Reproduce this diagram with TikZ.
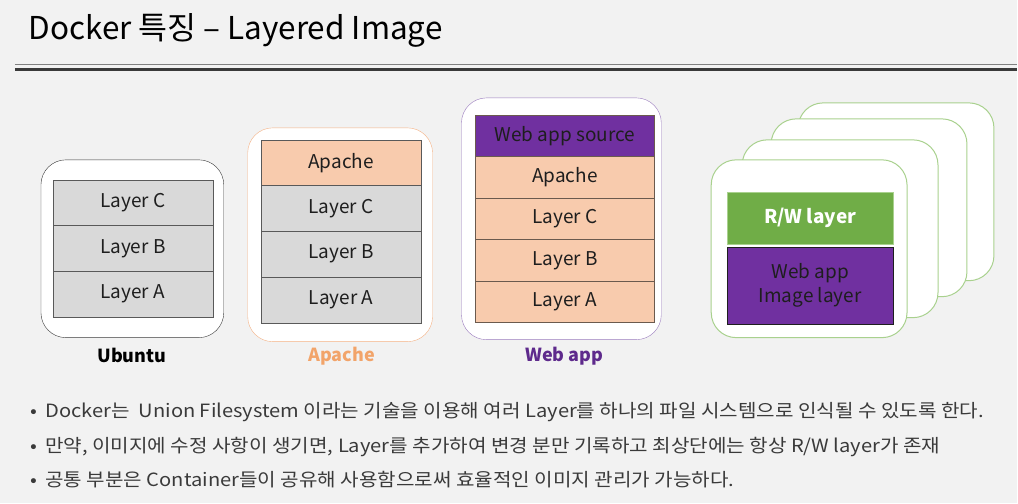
\documentclass[tikz,border=0pt]{standalone}
\usepackage{fontspec}
\setmainfont{Noto Sans CJK KR}
\newfontfamily\notefont{Noto Sans CJK KR}[FakeStretch=1.1]
\usetikzlibrary{positioning}

\definecolor{slidebg}{HTML}{F2F2F2}
\definecolor{inkdark}{HTML}{1E1E1E}
\definecolor{inkgray}{HTML}{3A3A3A}
\definecolor{layergray}{HTML}{D9D9D9}
\definecolor{layerline}{HTML}{595959}
\definecolor{peach}{HTML}{F8CBAD}
\definecolor{peachline}{HTML}{6B5A4E}
\definecolor{apacheline}{HTML}{F4B183}
\definecolor{apachetext}{HTML}{F2A46A}
\definecolor{webpurple}{HTML}{7030A0}
\definecolor{webline}{HTML}{9A7BBE}
\definecolor{webtext}{HTML}{5E2A8C}
\definecolor{rwgreen}{HTML}{70AD47}
\definecolor{rwline}{HTML}{A9D18E}
\definecolor{ruleline}{HTML}{3A3A3A}

\begin{document}
\begin{tikzpicture}[x=1pt,y=-1pt,
	shell/.style={rounded corners=25pt,fill=white,inner sep=0pt,outer sep=0pt,anchor=north west},
	layer/.style={draw=layerline,fill=layergray,inner sep=0pt,outer sep=0pt,text=inkdark,font=\fontsize{19}{22}\selectfont},
	caption/.style={font=\fontsize{18}{21}\selectfont\bfseries},
	note/.style={anchor=base west,text=inkgray,font=\notefont\fontsize{18.3}{21}\selectfont}
]
	\fill[slidebg] (0,0) rectangle (1018,504);
	%\draw[help lines] (0,0) grid[step=50] (1018,504);

	% title and rule
	\node[anchor=base west,font=\fontsize{31.5}{36}\selectfont,text=black] (title) at (25,40) {Docker 특징 – Layered Image};
	\draw[gray,line width=1pt] (15,65) -- (1018,65);
	\draw[ruleline,line width=2.2pt] (15,69.5) -- (1018,69.5);

	% ubuntu image
	\node[shell,draw=inkgray,minimum width=183pt,minimum height=178pt] (ubuntushell) at (41,160) {};
	\node[layer,anchor=north west,minimum width=160pt,minimum height=45.7pt] (ubC) at (53,180) {Layer C};
	\node[layer,below=0pt of ubC,minimum width=160pt,minimum height=45.7pt] (ubB) {Layer B};
	\node[layer,below=0pt of ubB,minimum width=160pt,minimum height=45.7pt] (ubA) {Layer A};
	\node[caption,text=black] (ubuntulabel) at (132,356) {Ubuntu};

	% apache image
	\node[shell,draw=apacheline,minimum width=185pt,minimum height=214pt] (apacheshell) at (248,128) {};
	\node[layer,fill=peach,anchor=north west,minimum width=161pt,minimum height=45.8pt] (apTop) at (261,140) {Apache};
	\node[layer,below=0pt of apTop,minimum width=161pt,minimum height=45.8pt] (apC) {Layer C};
	\node[layer,below=0pt of apC,minimum width=161pt,minimum height=45.8pt] (apB) {Layer B};
	\node[layer,below=0pt of apB,minimum width=161pt,minimum height=45.8pt] (apA) {Layer A};
	\node[caption,text=apachetext] (apachelabel) at (342,357) {Apache};

	% web app image
	\node[shell,draw=webline,minimum width=200pt,minimum height=242pt] (webshell) at (462,98) {};
	\node[layer,draw=peachline,fill=webpurple,anchor=north west,minimum width=179pt,minimum height=41.6pt] (wbSrc) at (476,115) {Web app source};
	\node[layer,draw=peachline,fill=peach,below=0pt of wbSrc,minimum width=179pt,minimum height=41.6pt] (wbAp) {Apache};
	\node[layer,draw=peachline,fill=peach,below=0pt of wbAp,minimum width=179pt,minimum height=41.6pt] (wbC) {Layer C};
	\node[layer,draw=peachline,fill=peach,below=0pt of wbC,minimum width=179pt,minimum height=41.6pt] (wbB) {Layer B};
	\node[layer,draw=peachline,fill=peach,below=0pt of wbB,minimum width=179pt,minimum height=41.6pt] (wbA) {Layer A};
	\node[caption,text=webtext] (weblabel) at (565,357) {Web app};

	% containers, back to front
	\foreach \i/\cx/\cy in {3/799/103,2/772/119,1/743/140,0/712/160}
		\node[shell,draw=rwline,line width=1pt,minimum width=196pt,minimum height=178pt] (ctr\i) at (\cx,\cy) {};
	\node[layer,draw=rwline,fill=rwgreen,text=white,anchor=north west,minimum width=166pt,minimum height=52pt,font=\fontsize{19}{22}\selectfont\bfseries] (rwlayer) at (728,192) {R/W layer};
	\node[layer,draw=inkdark,fill=webpurple,below=3pt of rwlayer,minimum width=167pt,minimum height=78pt,align=center,font=\fontsize{19}{24}\selectfont] (imglayer) {Web app\\Image layer};

	% notes
	\node[note] (note1) at (27,418) {•\hspace{8pt}Docker는\ \ Union Filesystem 이라는 기술을 이용해 여러 Layer를 하나의 파일 시스템으로 인식될 수 있도록 한다.};
	\node[note] (note2) at (27,453) {•\hspace{8pt}만약, 이미지에 수정 사항이 생기면, Layer를 추가하여 변경 분만 기록하고 최상단에는 항상 R/W layer가 존재};
	\node[note] (note3) at (27,487) {•\hspace{8pt}공통 부분은 Container들이 공유해 사용함으로써 효율적인 이미지 관리가 가능하다.};
\end{tikzpicture}
\end{document}
